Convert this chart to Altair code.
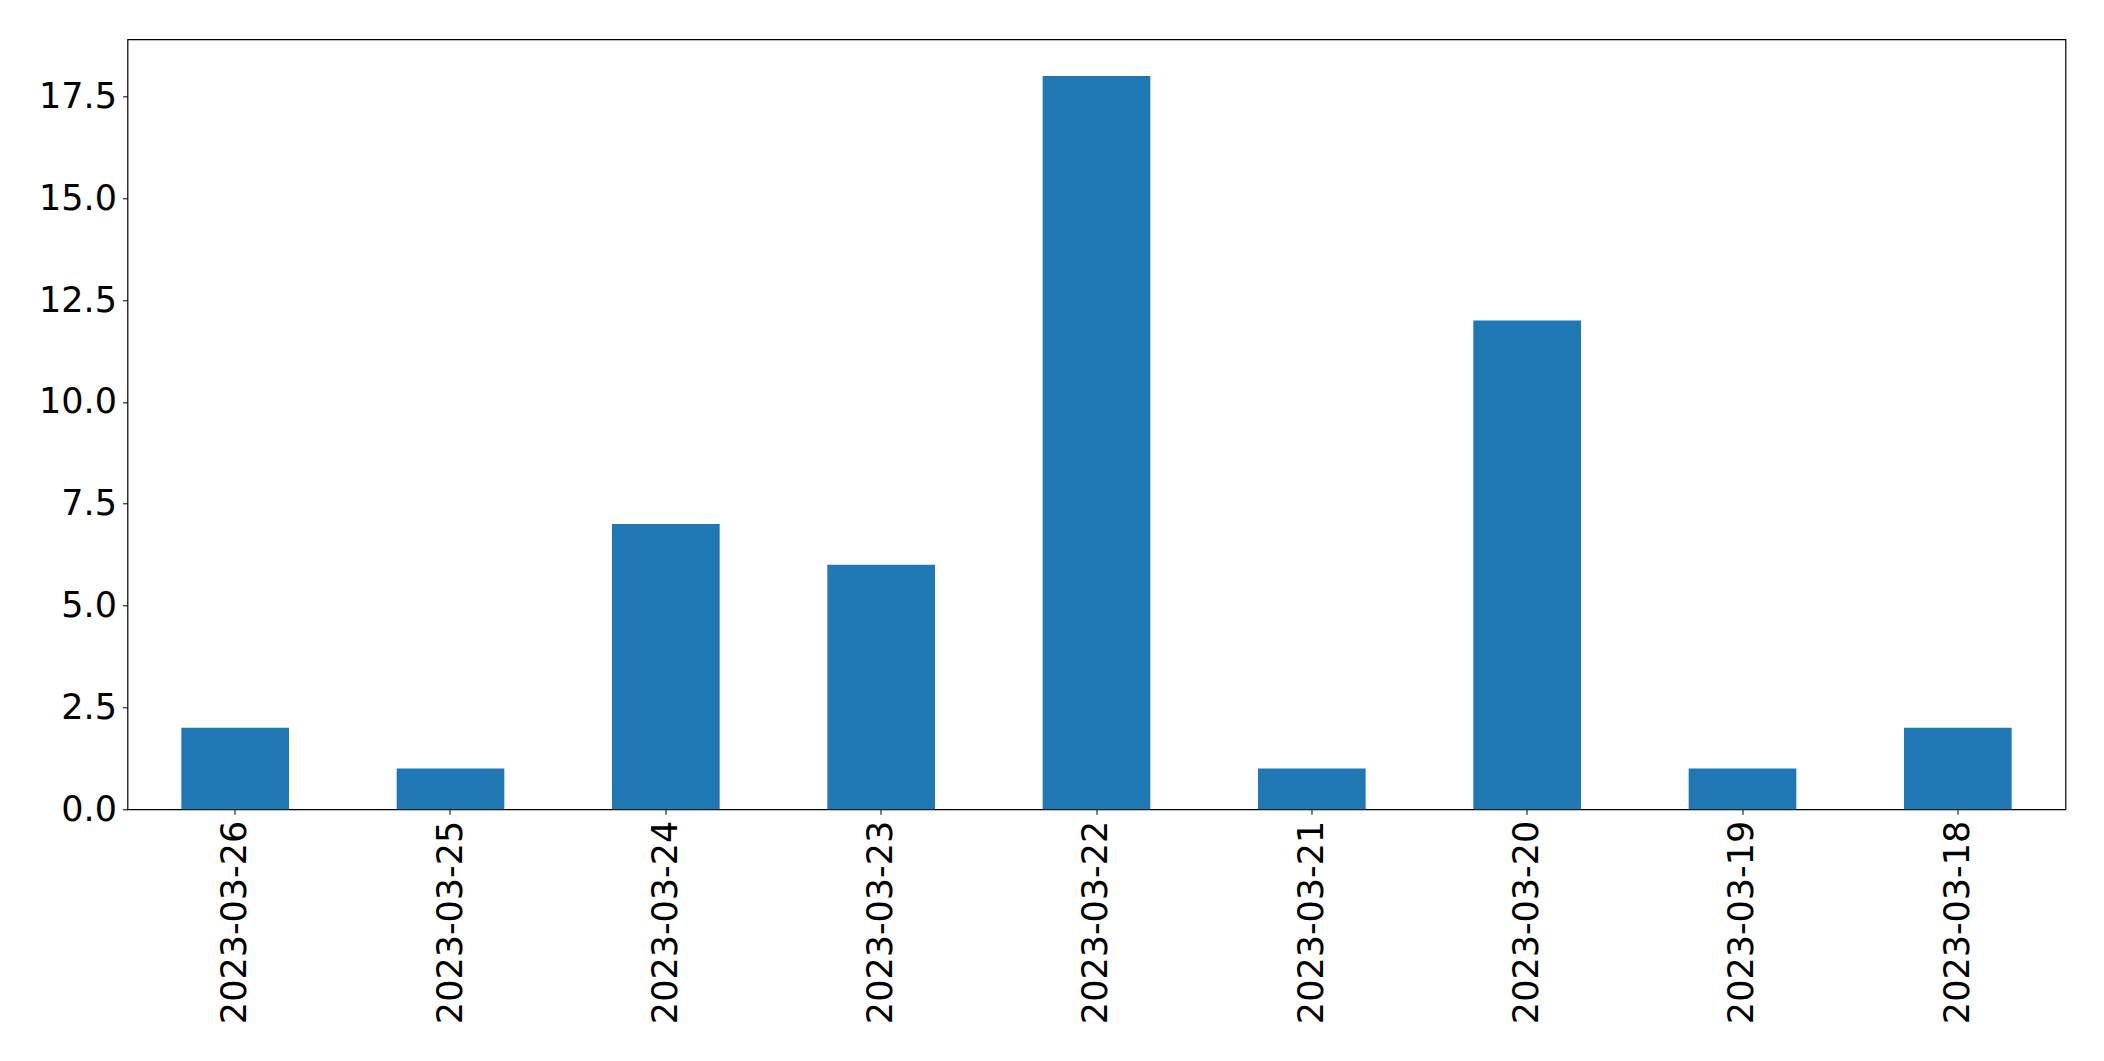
import altair as alt
import pandas as pd

dates = ["2023-03-26", "2023-03-25", "2023-03-24", "2023-03-23", "2023-03-22",
         "2023-03-21", "2023-03-20", "2023-03-19", "2023-03-18"]
counts = [2, 1, 7, 6, 18, 1, 12, 1, 2]
y_ticks = [0, 2.5, 5, 7.5, 10, 12.5, 15, 17.5]

df = pd.DataFrame({"date": dates, "count": counts})

chart = alt.Chart(df).mark_bar(color="#1f77b4").encode(
    x=alt.X("date:N", sort=None, title=None,
            scale=alt.Scale(paddingInner=0.5, paddingOuter=0.25),
            axis=alt.Axis(labelAngle=-90, labelFontSize=35, labelFont="DejaVu Sans",
                          labelColor="black", tickColor="black", tickSize=5,
                          labelPadding=6, labelLimit=0, domain=False, grid=False)),
    y=alt.Y("count:Q", title=None,
            scale=alt.Scale(domain=[0, 18.9], nice=False, zero=True),
            axis=alt.Axis(values=y_ticks, format=".1f", labelFontSize=35,
                          labelFont="DejaVu Sans", labelColor="black",
                          tickColor="black", tickSize=5, labelPadding=6,
                          labelLimit=0, domain=False, grid=False)),
).properties(
    width=1938, height=770,
    autosize=alt.AutoSizeParams(type="none"),
    padding={"left": 119.5, "top": 31.3, "right": 30, "bottom": 240},
).configure_view(
    stroke="black", strokeWidth=1.2
)

chart.save("out.html", embed_options={"renderer": "svg", "actions": False})
